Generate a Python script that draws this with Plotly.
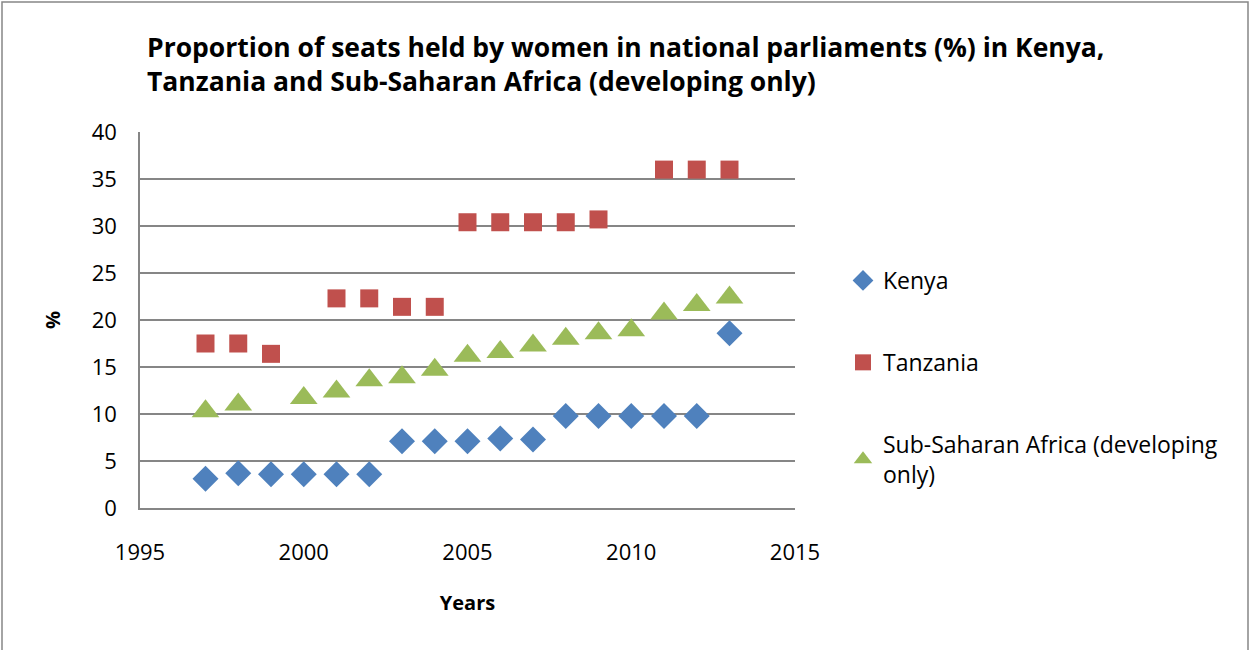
import plotly.graph_objects as go

years = list(range(1997, 2014))
kenya = [3.1, 3.7, 3.6, 3.6, 3.6, 3.6, 7.1, 7.1, 7.1, 7.4, 7.3, 9.8, 9.8, 9.8, 9.8, 9.8, 18.6]
tanzania = [17.5, 17.5, 16.4, None, 22.3, 22.3, 21.4, 21.4, 30.4, 30.4, 30.4, 30.4, 30.7, None, 36.0, 36.0, 36.0]
ssa = [10.3, 11.0, None, 11.7, 12.4, 13.6, 13.9, 14.7, 16.2, 16.6, 17.3, 18.0, 18.6, 18.9, 20.7, 21.6, 22.4]

series = [
    ("Kenya", kenya, "diamond", "#4F81BD", 20),
    ("Tanzania", tanzania, "square", "#C0504D", 18),
    ("Sub-Saharan Africa (developing<br>only)", ssa, "triangle-up", "#9BBB59", 24),
]

font = "Open Sans"
# plot area in pixels
L, R, T, B = 140, 795, 132, 508
W, H = R - L, B - T

fig = go.Figure()
for name, values, symbol, color, size in series:
    fig.add_trace(go.Scatter(
        x=years, y=values, name=name, mode="markers", legendgroup=name,
        marker=dict(symbol=symbol, color=color, size=size, line=dict(width=0)),
    ))

fig.update_layout(
    width=1250, height=650,
    paper_bgcolor="white", plot_bgcolor="white",
    margin=dict(l=L, r=1250 - R, t=T, b=650 - B),
    font=dict(family=font, size=22, color="black"),
    title=dict(
        text="<b>Proportion of seats held by women in national parliaments (%) in Kenya,<br>Tanzania and Sub-Saharan Africa (developing only)</b>",
        x=147 / 1250, xanchor="left", y=1 - 57 / 650, yanchor="middle",
        font=dict(family=font, size=26.5),
    ),
    legend=dict(
        x=(843 - L) / W, xanchor="left", y=(B - 259) / H, yanchor="top",
        font=dict(family=font, size=23), tracegroupgap=49,
        itemsizing="trace",
    ),
    showlegend=True,
)
fig.update_xaxes(
    range=[1995, 2015], dtick=5, tick0=1995,
    showgrid=False, showline=True, linecolor="#868686", linewidth=1.5,
    ticks="", ticklabelstandoff=24,
    zeroline=False,
    title=dict(text="<b>Years</b>", font=dict(size=20), standoff=31),
)
fig.update_yaxes(
    range=[0, 40], dtick=5,
    showgrid=True, gridcolor="#868686", gridwidth=1.5,
    showline=True, linecolor="#868686", linewidth=1.5,
    ticks="", ticklabelstandoff=17,
    zeroline=False,
    title=dict(text="<b>%</b>", font=dict(size=20), standoff=26),
)
fig.add_shape(
    type="rect", xref="paper", yref="paper",
    x0=(2 - L) / W, x1=(1248 - L) / W, y0=(B - 660) / H, y1=(B - 2) / H,
    line=dict(color="#868686", width=1.5), fillcolor="rgba(0,0,0,0)", layer="below",
)

fig.write_html(
    "out.html",
    config={"displayModeBar": False},
    post_script="document.body.style.margin='0';",
)
